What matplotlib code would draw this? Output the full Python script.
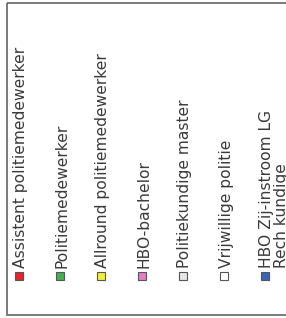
import matplotlib
matplotlib.use("Agg")
import matplotlib.pyplot as plt
from matplotlib.patches import Rectangle

labels = [
    "Assistent politiemedewerker",
    "Politiemedewerker",
    "Allround politiemedewerker",
    "HBO-bachelor",
    "Politiekundige master",
    "Vrijwillige politie",
    "HBO Zij-instroom LG\nRech kundige",
]
colors = ["#e3262e", "#3fb34f", "#f2ee3a", "#e77cc9", "#e6e6e6", "#ffffff", "#3d63b8"]

W, H = 286, 318
fig = plt.figure(figsize=(W / 100, H / 100), dpi=100)
ax = fig.add_axes([0, 0, 1, 1])
ax.set_xlim(0, W)
ax.set_ylim(H, 0)
ax.axis("off")

# legend frame (right side cut off, as in the reference)
ax.add_patch(Rectangle((7, 3), 320, 312, fill=False, edgecolor="#707070", lw=1.3))

x0, dx = 19, 41
for i, (lab, col) in enumerate(zip(labels, colors)):
    xc = x0 + i * dx
    ax.add_patch(Rectangle((xc - 4, 272), 8, 8, facecolor=col, edgecolor="#555555", lw=0.8))
    ax.text(xc - 5.5, 268, lab, rotation=90, rotation_mode="anchor",
            ha="left", va="top", fontsize=11.2, color="#3a3a3a",
            family="DejaVu Sans", linespacing=0.92)

fig.savefig("out.png", dpi=100, facecolor="white")
